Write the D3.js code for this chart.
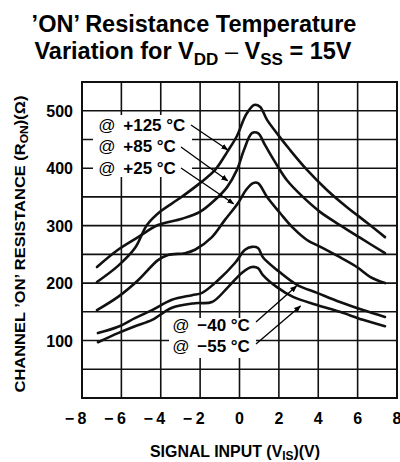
<html>
<head>
<meta charset="UTF-8">
<title>ON Resistance Temperature Variation</title>
<script src="https://cdn.jsdelivr.net/npm/d3@7"></script>
<style>
  body { margin: 0; padding: 0; background: #fff; }
  text { font-family: "Liberation Sans", Arial, sans-serif; }
</style>
</head>
<body>
<script>
// values (signal input V, resistance ohm)
var vis125 = [-7.24,-6.17,-5.31,-4.70,-4.04,-3.02,-2.01,-1.24,-0.63,-0.13,0.33,0.74,1.04,1.40,1.96,2.56,3.43,4.44,5.46,6.48,7.39];
var ron125 = [202,230,261,301,324,348,374,397,428,456,493,510,507,484,458,432,397,362,332,305,280];

var vis85 = [-7.24,-6.17,-5.15,-4.14,-2.92,-2.01,-1.24,-0.63,-0.13,0.23,0.63,0.94,1.30,1.80,2.41,3.22,4.09,5.10,6.12,7.39];
var ron85 = [228,258,280,301,312,324,345,367,397,432,461,461,440,411,379,350,324,301,279,252];

var vis25 = [-7.24,-6.17,-5.15,-4.14,-3.63,-2.77,-2.26,-1.40,-0.74,-0.08,0.33,0.69,0.94,1.40,2.06,2.72,3.43,4.24,5.10,5.96,6.63,7.39];
var ron25 = [153,176,205,240,249,252,258,280,310,339,362,374,374,350,322,296,275,261,245,228,211,200];

var visM40 = [-7.19,-6.17,-5.31,-4.44,-3.43,-2.41,-1.90,-1.09,-0.23,0.28,0.63,0.94,1.19,1.90,2.92,3.94,5.10,6.27,7.39];
var ronM40 = [113,124,139,153,171,179,183,205,235,258,263,261,245,223,197,183,167,153,141];

var visM55 = [-7.19,-6.17,-5.31,-4.44,-3.43,-2.26,-1.40,-0.58,0.13,0.63,0.94,1.19,1.90,2.72,3.94,5.10,6.27,7.39];
var ronM55 = [97,113,125,136,157,165,167,193,218,228,226,214,193,176,162,150,136,125];

var xTicks = [-8,-6,-4,-2,0,2,4,6,8];
var yTicks = [100,200,300,400,500];

var w = 400, h = 462;
var padL = 82, padR = 397, padT = 82, padB = 398;

var x = d3.scaleLinear().domain([-8, 8]).range([padL, padR]);
var y = d3.scaleLinear().domain([0, 550]).range([padB, padT]);

var svg = d3.select("body").append("svg")
    .attr("width", w)
    .attr("height", h);

svg.append("defs").append("marker")
    .attr("id", "arr")
    .attr("viewBox", "0 0 10 10")
    .attr("refX", 9).attr("refY", 5)
    .attr("markerWidth", 7).attr("markerHeight", 7)
    .attr("markerUnits", "userSpaceOnUse")
    .attr("orient", "auto")
  .append("path")
    .attr("d", "M0,1 L10,5 L0,9 Z")
    .attr("fill", "#000");

// title
var title = svg.append("g").attr("font-weight", "bold").attr("text-anchor", "middle");
title.append("text")
    .attr("x", 194).attr("y", 32)
    .attr("font-size", 23.5)
    .text("\u2019ON\u2019 Resistance Temperature");
var t2 = title.append("text")
    .attr("x", 193).attr("y", 59)
    .attr("font-size", 23.5);
t2.append("tspan").text("Variation for V");
t2.append("tspan").attr("dy", 6).attr("font-size", 17).text("DD");
t2.append("tspan").attr("dy", -6).attr("font-weight", "normal").text(" \u2013 ");
t2.append("tspan").text("V");
t2.append("tspan").attr("dy", 6).attr("font-size", 17).text("SS");
t2.append("tspan").attr("dy", -6).text(" = 15V");

// grid
var grid = svg.append("g").attr("stroke", "#111").attr("stroke-width", 1.6);
grid.selectAll(".gx").data(d3.range(-6, 7, 2)).enter().append("line")
    .attr("x1", function(d) { return x(d); }).attr("x2", function(d) { return x(d); })
    .attr("y1", padT).attr("y2", padB);
grid.selectAll(".gy").data(d3.range(50, 501, 50)).enter().append("line")
    .attr("x1", padL).attr("x2", padR)
    .attr("y1", function(d) { return y(d); }).attr("y2", function(d) { return y(d); });
svg.append("rect")
    .attr("x", padL).attr("y", padT)
    .attr("width", padR - padL).attr("height", padB - padT)
    .attr("fill", "none").attr("stroke", "#111").attr("stroke-width", 2);

// label backgrounds (they cut the grid in the reference)
svg.append("rect").attr("x", 93).attr("y", 115).attr("width", 99).attr("height", 62).attr("fill", "#fff");
svg.append("rect").attr("x", 169).attr("y", 318).attr("width", 87).attr("height", 40).attr("fill", "#fff");

// curves
var line = d3.line()
    .x(function(d) { return x(d[0]); })
    .y(function(d) { return y(d[1]); })
    .curve(d3.curveCatmullRom.alpha(0.5));

var series = [[vis125, ron125], [vis85, ron85], [vis25, ron25], [visM40, ronM40], [visM55, ronM55]];
series.forEach(function(s) {
    svg.append("path")
        .datum(d3.zip(s[0], s[1]))
        .attr("d", line)
        .attr("fill", "none")
        .attr("stroke", "#111")
        .attr("stroke-width", 2.6)
        .attr("stroke-linecap", "round");
});

// curve labels
var labels = [
    {t: "+125 \u00b0C", lx: 98, ly: 131, ax: -0.6, ar: 432, bx: 191, by: 125},
    {t: "+85 \u00b0C",  lx: 98, ly: 152, ax: -0.6, ar: 378, bx: 181, by: 147},
    {t: "+25 \u00b0C",  lx: 98, ly: 174, ax: -0.3, ar: 338, bx: 181, by: 168},
    {t: "\u221240 \u00b0C", lx: 172, ly: 331, ax: 2.9, ar: 195, bx: 256, by: 322},
    {t: "\u221255 \u00b0C", lx: 172, ly: 352, ax: 3.1, ar: 160, bx: 256, by: 344}
];
labels.forEach(function(l) {
    var g = svg.append("text")
        .attr("x", l.lx).attr("y", l.ly)
        .attr("font-size", 17);
    g.append("tspan").attr("font-style", "italic").text("@");
    g.append("tspan").attr("dx", 8).attr("font-weight", "bold").text(l.t);
    svg.append("line")
        .attr("x1", l.bx).attr("y1", l.by)
        .attr("x2", x(l.ax)).attr("y2", y(l.ar))
        .attr("stroke", "#000").attr("stroke-width", 1.3)
        .attr("marker-end", "url(#arr)");
});

// y tick labels
svg.append("g").selectAll("text").data(yTicks).enter().append("text")
    .attr("x", 73).attr("y", function(d) { return y(d) + 6; })
    .attr("text-anchor", "end")
    .attr("font-size", 16).attr("font-weight", "bold")
    .text(function(d) { return d; });

// x tick labels, digit centred on the tick, minus hanging left
var xl = svg.append("g").attr("font-size", 16).attr("font-weight", "bold");
xl.selectAll(".d").data(xTicks).enter().append("text")
    .attr("x", function(d) { return x(d); }).attr("y", 424)
    .attr("text-anchor", "middle")
    .text(function(d) { return Math.abs(d); });
xl.selectAll(".m").data(xTicks.filter(function(d) { return d < 0; })).enter().append("text")
    .attr("x", function(d) { return x(d) - 8; }).attr("y", 424)
    .attr("text-anchor", "end")
    .text("\u2212");

// axis titles
var yt = svg.append("text")
    .attr("transform", "translate(25,244) rotate(-90)")
    .attr("text-anchor", "middle")
    .attr("font-size", 15).attr("font-weight", "bold")
    .attr("textLength", 297).attr("lengthAdjust", "spacingAndGlyphs");
yt.append("tspan").text("CHANNEL \u2019ON\u2019 RESISTANCE (R");
yt.append("tspan").attr("dy", 3).attr("font-size", 11).text("ON");
yt.append("tspan").attr("dy", -3).text(")(\u03a9)");

var xt = svg.append("text")
    .attr("x", 235).attr("y", 457)
    .attr("text-anchor", "middle")
    .attr("font-size", 16).attr("font-weight", "bold")
    .attr("textLength", 170).attr("lengthAdjust", "spacingAndGlyphs");
xt.append("tspan").text("SIGNAL INPUT (V");
xt.append("tspan").attr("dy", 3).attr("font-size", 12).text("IS");
xt.append("tspan").attr("dy", -3).text(")(V)");
</script>
</body>
</html>
